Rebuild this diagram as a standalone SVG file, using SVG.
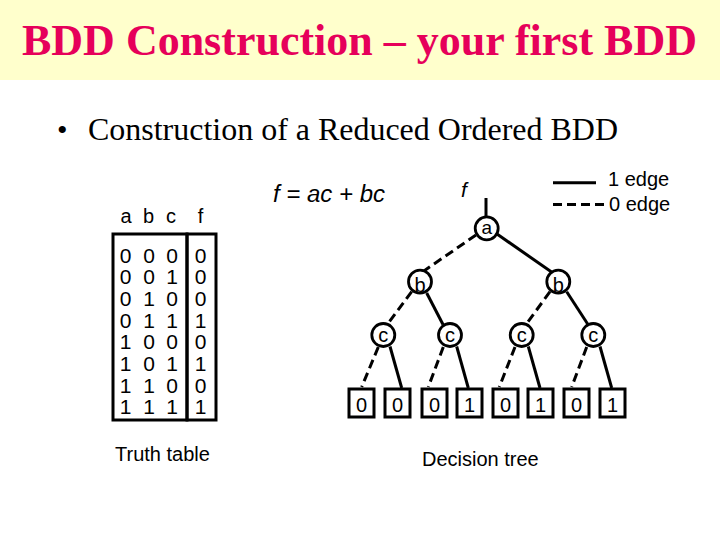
<svg xmlns="http://www.w3.org/2000/svg" width="720" height="540" viewBox="0 0 720 540">
<style>
.t{font-family:"Liberation Sans",Arial,sans-serif;fill:#000}
.tt{font-size:20px}
.n{font-size:20px;text-anchor:middle}
.e{stroke:#000;stroke-width:3;fill:none}
.d{stroke-dasharray:9,5}
.c{fill:#fff;stroke:#000;stroke-width:2.8}
.lf{fill:#fff;stroke:#000;stroke-width:3}
</style>
<rect x="0" y="0" width="720" height="80" fill="#FFFFCC"/>
<text x="22" y="55" font-family="'Liberation Serif','Times New Roman',serif" font-weight="bold" font-size="45" fill="#E6005A" textLength="675" lengthAdjust="spacingAndGlyphs">BDD Construction – your first BDD</text>
<text x="57" y="140" font-family="'Liberation Serif','Times New Roman',serif" font-size="30" fill="#000">•</text>
<text x="88" y="140" font-family="'Liberation Serif','Times New Roman',serif" font-size="31" fill="#000" textLength="530" lengthAdjust="spacingAndGlyphs">Construction of a Reduced Ordered BDD</text>

<g id="truth-table">
<g class="t" font-size="20" text-anchor="middle">
<text x="126" y="223">a</text><text x="148.5" y="223">b</text><text x="171" y="223">c</text><text x="200.5" y="223">f</text>
</g>
<rect x="113" y="234" width="74" height="186" fill="none" stroke="#000" stroke-width="3"/>
<rect x="187" y="234" width="29" height="186" fill="none" stroke="#000" stroke-width="3"/>
<g class="t" font-size="21" text-anchor="middle">
<text x="125.5" y="262.5">0</text><text x="149" y="262.5">0</text><text x="172" y="262.5">0</text><text x="200.5" y="262.5">0</text>
<text x="125.5" y="284.2">0</text><text x="149" y="284.2">0</text><text x="172" y="284.2">1</text><text x="200.5" y="284.2">0</text>
<text x="125.5" y="305.9">0</text><text x="149" y="305.9">1</text><text x="172" y="305.9">0</text><text x="200.5" y="305.9">0</text>
<text x="125.5" y="327.6">0</text><text x="149" y="327.6">1</text><text x="172" y="327.6">1</text><text x="200.5" y="327.6">1</text>
<text x="125.5" y="349.3">1</text><text x="149" y="349.3">0</text><text x="172" y="349.3">0</text><text x="200.5" y="349.3">0</text>
<text x="125.5" y="371">1</text><text x="149" y="371">0</text><text x="172" y="371">1</text><text x="200.5" y="371">1</text>
<text x="125.5" y="392.6">1</text><text x="149" y="392.6">1</text><text x="172" y="392.6">0</text><text x="200.5" y="392.6">0</text>
<text x="125.5" y="414.3">1</text><text x="149" y="414.3">1</text><text x="172" y="414.3">1</text><text x="200.5" y="414.3">1</text>
</g>
<text class="t tt" x="115" y="461">Truth table</text>
</g>

<text class="t" x="273" y="202" font-size="23" font-style="italic" textLength="112" lengthAdjust="spacingAndGlyphs">f = ac + bc</text>
<text class="t" x="461" y="197" font-size="21" font-style="italic">f</text>

<g id="legend">
<line x1="553" y1="182.7" x2="596" y2="182.7" class="e"/>
<line x1="553" y1="204.5" x2="606" y2="204.5" class="e d"/>
<text class="t tt" x="608" y="186">1 edge</text>
<text class="t tt" x="609" y="211">0 edge</text>
</g>

<g id="connectors">
<line x1="486" y1="198" x2="486" y2="216.5" class="e"/>
<line x1="476" y1="235" x2="418" y2="275" class="e d"/>
<line x1="497" y1="234" x2="553" y2="273" class="e"/>
<line x1="411.7" y1="291.7" x2="388" y2="323.5" class="e d"/>
<line x1="426.7" y1="293" x2="443" y2="324.5" class="e"/>
<line x1="550" y1="291.7" x2="526.7" y2="323.5" class="e d"/>
<line x1="566.7" y1="291.7" x2="588" y2="324.5" class="e"/>
<line x1="378.3" y1="347" x2="361.7" y2="387" class="e d"/>
<line x1="390" y1="346.5" x2="401.7" y2="388" class="e"/>
<line x1="443.3" y1="347" x2="428.3" y2="387" class="e d"/>
<line x1="456.7" y1="346.5" x2="468.3" y2="388" class="e"/>
<line x1="515" y1="347" x2="499.3" y2="387" class="e d"/>
<line x1="528.3" y1="346.5" x2="540" y2="388" class="e"/>
<line x1="586.7" y1="347" x2="571.7" y2="387" class="e d"/>
<line x1="600" y1="346.5" x2="611.7" y2="388" class="e"/>
</g>

<g id="node-a"><circle cx="486.7" cy="228.3" r="11.5" class="c"/><text class="t" x="486.7" y="233.5" font-size="19" text-anchor="middle">a</text></g>
<g id="node-b1"><circle cx="420" cy="281.7" r="11.5" class="c"/><text class="t n" x="420" y="291.5">b</text></g>
<g id="node-b2"><circle cx="558.3" cy="281.7" r="11.5" class="c"/><text class="t n" x="558.3" y="291.5">b</text></g>
<g id="node-c1"><circle cx="383.3" cy="335" r="11.5" class="c"/><text class="t n" x="383.3" y="341.7">c</text></g>
<g id="node-c2"><circle cx="450" cy="335" r="11.5" class="c"/><text class="t n" x="450" y="341.7">c</text></g>
<g id="node-c3"><circle cx="521.7" cy="335" r="11.5" class="c"/><text class="t n" x="521.7" y="341.7">c</text></g>
<g id="node-c4"><circle cx="593.3" cy="335" r="11.5" class="c"/><text class="t n" x="593.3" y="341.7">c</text></g>

<g id="leaf-1"><rect x="349" y="389" width="25" height="28" class="lf"/><text class="t n" x="361.5" y="411.5" font-size="19">0</text></g>
<g id="leaf-2"><rect x="385" y="389" width="25" height="28" class="lf"/><text class="t n" x="397.5" y="411.5" font-size="19">0</text></g>
<g id="leaf-3"><rect x="422" y="389" width="25" height="28" class="lf"/><text class="t n" x="434.5" y="411.5" font-size="19">0</text></g>
<g id="leaf-4"><rect x="457" y="389" width="25" height="28" class="lf"/><text class="t n" x="469.5" y="411.5" font-size="19">1</text></g>
<g id="leaf-5"><rect x="493" y="389" width="25" height="28" class="lf"/><text class="t n" x="505.5" y="411.5" font-size="19">0</text></g>
<g id="leaf-6"><rect x="528" y="389" width="25" height="28" class="lf"/><text class="t n" x="540.5" y="411.5" font-size="19">1</text></g>
<g id="leaf-7"><rect x="564" y="389" width="25" height="28" class="lf"/><text class="t n" x="576.5" y="411.5" font-size="19">0</text></g>
<g id="leaf-8"><rect x="600" y="389" width="25" height="28" class="lf"/><text class="t n" x="612.5" y="411.5" font-size="19">1</text></g>

<text class="t tt" x="422" y="466">Decision tree</text>
</svg>
